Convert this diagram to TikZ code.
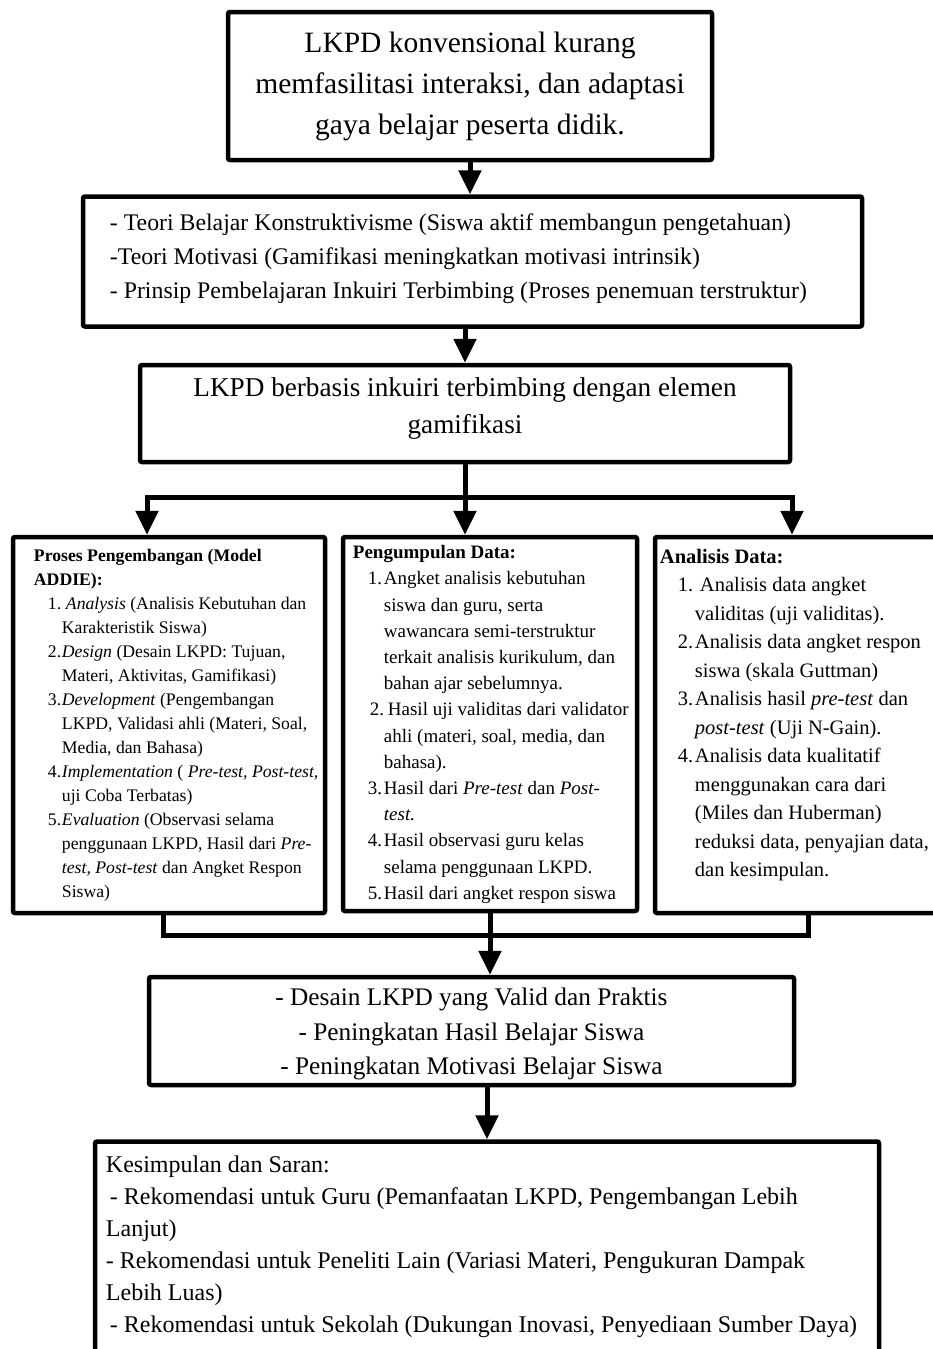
\documentclass[tikz,border=0pt]{standalone}
\usepackage{fontspec}
\setmainfont{Liberation Serif}
\usetikzlibrary{arrows.meta,positioning}

\newcommand{\butir}[3]{\hspace*{#1}\makebox[#2][l]{#3}}

\begin{document}
\begin{tikzpicture}[x=1pt, y=-1pt, >={Triangle[length=24pt,width=22pt]},
  every node/.style={inner sep=0pt},
  box/.style={draw, line width=4.5pt, rounded corners=2pt},
  line/.style={line width=5pt},
  arr/.style={line width=5pt, ->}]
  \useasboundingbox (0,0) rectangle (932,1349);

  % masalah
  \node[box, minimum width=484pt, minimum height=148pt, align=center,
        font=\fontsize{29.5}{41}\selectfont] (prob) at (470,86)
    {LKPD konvensional kurang\\memfasilitasi interaksi, dan adaptasi\\gaya belajar peserta didik.};

  % landasan teori
  \node[box, minimum width=779pt, minimum height=130pt, below=32pt of prob, xshift=2.5pt] (teori) {};
  \node[anchor=north west, align=left, font=\fontsize{23.8}{34}\selectfont] (teoriTxt)
    at ([shift={(29pt,-19pt)}]teori.north west)
    {- Teori Belajar Konstruktivisme (Siswa aktif membangun pengetahuan)\\
     -Teori Motivasi (Gamifikasi meningkatkan motivasi intrinsik)\\
     - Prinsip Pembelajaran Inkuiri Terbimbing (Proses penemuan terstruktur)};

  % produk
  \node[box, minimum width=650pt, minimum height=97pt, below=34pt of teori, xshift=-7.5pt,
        align=center, font=\fontsize{27.2}{37}\selectfont] (produk)
    {LKPD berbasis inkuiri terbimbing dengan elemen\\gamifikasi\rule[-16pt]{0pt}{0pt}};

  % tiga kolom
  \node[box, minimum width=312pt, minimum height=376pt] (kiri) at (169,725) {};
  \node[box, minimum width=294pt, minimum height=374pt] (tengah) at (490,724) {};
  \node[box, minimum width=285pt, minimum height=376pt] (kanan) at (797.5,725) {};

  \node[anchor=north west, align=left, font=\fontsize{17.7}{24}\selectfont] (kiriTxt)
    at ([shift={(23pt,-14.5pt)}]kiri.north west)
    {\textbf{Proses Pengembangan (Model}\\
     \textbf{ADDIE):}\\
     \butir{14pt}{14pt}{1.}\hspace{4pt}\textit{Analysis} (Analisis Kebutuhan dan\\
     \hspace*{28pt}Karakteristik Siswa)\\
     \butir{14pt}{14pt}{2.}\textit{Design} (Desain LKPD: Tujuan,\\
     \hspace*{28pt}Materi, Aktivitas, Gamifikasi)\\
     \butir{14pt}{14pt}{3.}\textit{Development} (Pengembangan\\
     \hspace*{28pt}LKPD, Validasi ahli (Materi, Soal,\\
     \hspace*{28pt}Media, dan Bahasa)\\
     \butir{14pt}{14pt}{4.}\textit{Implementation} ( \textit{Pre-test, Post-test,}\\
     \hspace*{28pt}uji Coba Terbatas)\\
     \butir{14pt}{14pt}{5.}\textit{Evaluation} (Observasi selama\\
     \hspace*{28pt}penggunaan LKPD, Hasil dari \textit{Pre-}\\
     \hspace*{28pt}\textit{test, Post-test} dan Angket Respon\\
     \hspace*{28pt}Siswa)};

  \node[anchor=north west, align=left, font=\fontsize{19}{26.2}\selectfont] (tengahTxt)
    at ([shift={(12pt,-10.5pt)}]tengah.north west)
    {\textbf{Pengumpulan Data:}\\
     \butir{15pt}{16pt}{1.}Angket analisis kebutuhan\\
     \hspace*{31pt}siswa dan guru, serta\\
     \hspace*{31pt}wawancara semi-terstruktur\\
     \hspace*{31pt}terkait analisis kurikulum, dan\\
     \hspace*{31pt}bahan ajar sebelumnya.\\
     \butir{17pt}{16pt}{2.}\hspace{2pt}Hasil uji validitas dari validator\\
     \hspace*{31pt}ahli (materi, soal, media, dan\\
     \hspace*{31pt}bahasa).\\
     \butir{15pt}{16pt}{3.}Hasil dari \textit{Pre-test} dan \textit{Post-}\\
     \hspace*{31pt}\textit{test.}\\
     \butir{15pt}{16pt}{4.}Hasil observasi guru kelas\\
     \hspace*{31pt}selama penggunaan LKPD.\\
     \butir{15pt}{16pt}{5.}Hasil dari angket respon siswa};

  \node[anchor=north west, align=left, font=\fontsize{20.5}{28.5}\selectfont] (kananTxt)
    at ([shift={(7pt,-14pt)}]kanan.north west)
    {\textbf{Analisis Data:}\\
     \butir{18pt}{17pt}{1.}\hspace{5pt}Analisis data angket\\
     \hspace*{35pt}validitas (uji validitas).\\
     \butir{18pt}{17pt}{2.}Analisis data angket respon\\
     \hspace*{35pt}siswa (skala Guttman)\\
     \butir{18pt}{17pt}{3.}Analisis hasil \textit{pre-test} dan\\
     \hspace*{35pt}\textit{post-test} (Uji N-Gain).\\
     \butir{18pt}{17pt}{4.}Analisis data kualitatif\\
     \hspace*{35pt}menggunakan cara dari\\
     \hspace*{35pt}(Miles dan Huberman)\\
     \hspace*{35pt}reduksi data, penyajian data,\\
     \hspace*{35pt}dan kesimpulan.};

  % hasil
  \node[box, minimum width=645pt, minimum height=108pt, align=center,
        font=\fontsize{25.3}{34.5}\selectfont] (hasil) at (471.5,1031)
    {\rule{0pt}{24pt}- Desain LKPD yang Valid dan Praktis\\
     - Peningkatan Hasil Belajar Siswa\\
     - Peningkatan Motivasi Belajar Siswa};

  % kesimpulan
  \node[box, minimum width=784pt, minimum height=260pt, below=52pt of hasil, xshift=15.5pt] (simpul) {};
  \node[anchor=north west, align=left, font=\fontsize{24}{32}\selectfont] (simpulTxt)
    at ([shift={(13pt,-16pt)}]simpul.north west)
    {Kesimpulan dan Saran:\\
     \hspace*{4pt}- Rekomendasi untuk Guru (Pemanfaatan LKPD, Pengembangan Lebih\\
     Lanjut)\\
     - Rekomendasi untuk Peneliti Lain (Variasi Materi, Pengukuran Dampak\\
     Lebih Luas)\\
     \hspace*{4pt}- Rekomendasi untuk Sekolah (Dukungan Inovasi, Penyediaan Sumber Daya)};

  % panah
  \coordinate (barL) at (147,497);
  \coordinate (barR) at (792,497);
  \coordinate (mergeL) at (163,935);
  \coordinate (mergeR) at (808,935);

  \draw[arr] (prob.south) -- (prob.south |- teori.north);
  \draw[arr] (produk.north |- teori.south) -- (produk.north);
  \draw[line] (produk.south) -- (produk.south |- barL);
  \draw[line, line cap=rect] (barL) -- (barR);
  \draw[arr] (barL) -- (barL |- kiri.north);
  \draw[arr] (produk.south |- barL) -- (produk.south |- tengah.north);
  \draw[arr] (barR) -- (barR |- kanan.north);

  \draw[line] (mergeL |- kiri.south) -- (mergeL);
  \draw[line] (tengah.south) -- (tengah.south |- mergeL);
  \draw[line] (mergeR |- kanan.south) -- (mergeR);
  \draw[line, line cap=rect] (mergeL) -- (mergeR);
  \draw[arr] (tengah.south |- mergeL) -- (tengah.south |- hasil.north);
  \draw[arr] (hasil.south -| simpul.north) -- (simpul.north);
\end{tikzpicture}
\end{document}
